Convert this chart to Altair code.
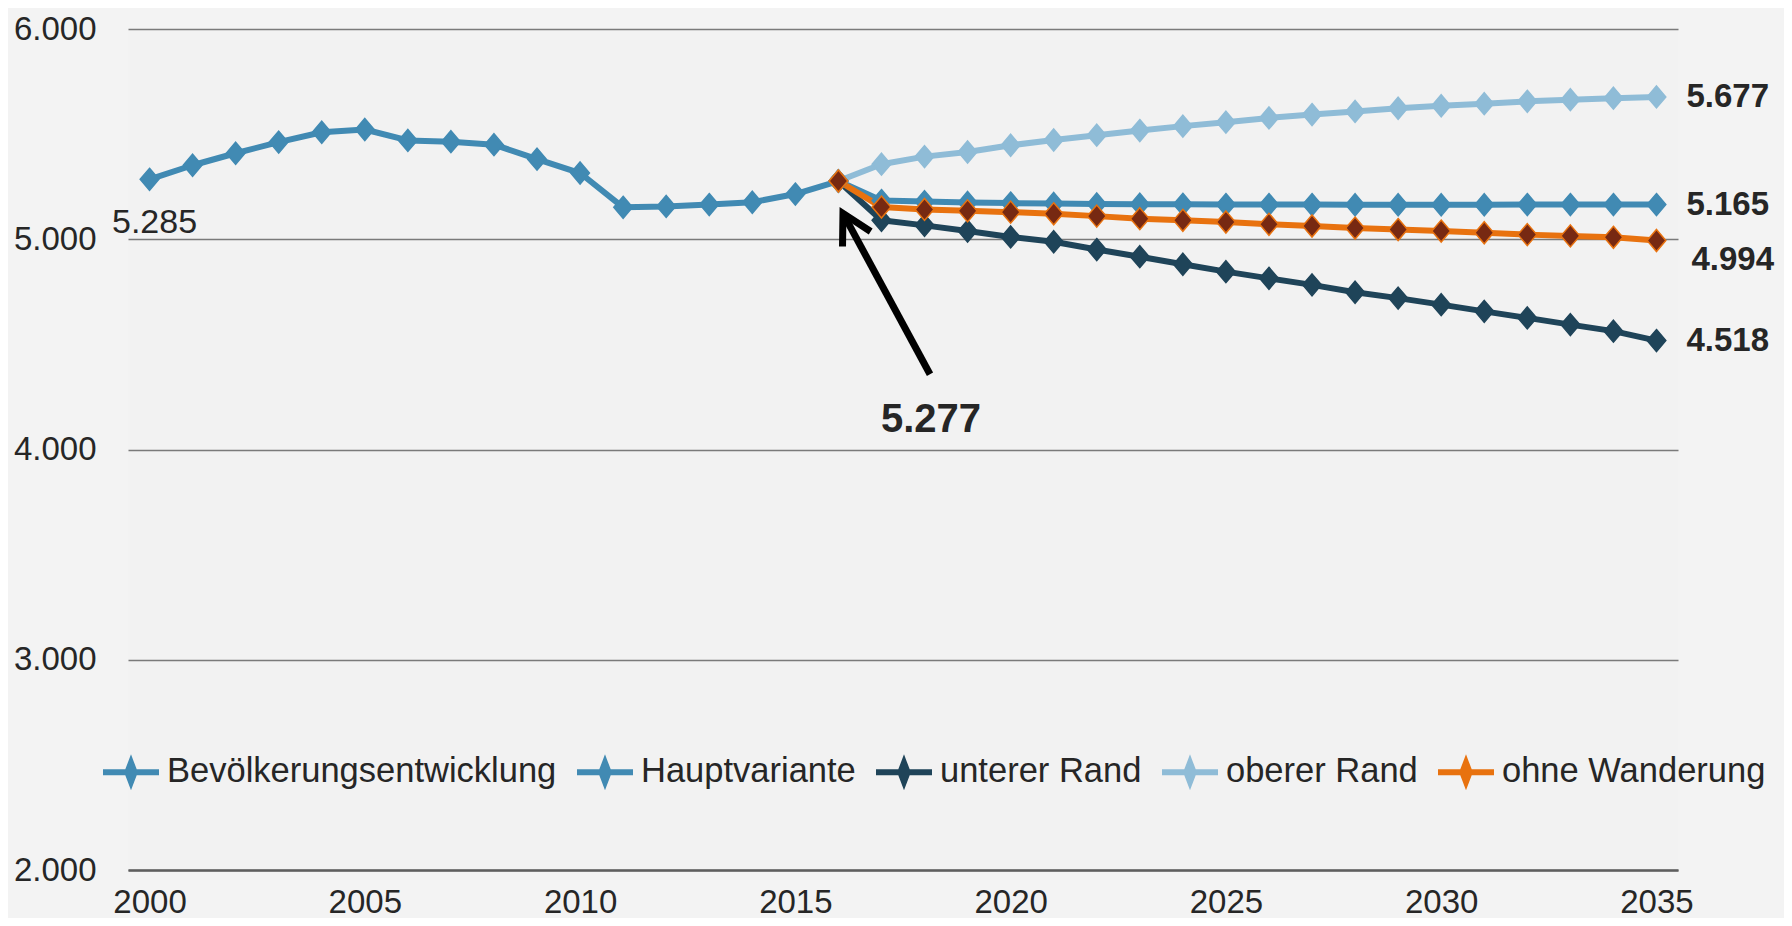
import altair as alt
import pandas as pd

# ---------------- data ----------------
years_hist = list(range(2000, 2017))
bevoelkerung = [5285, 5352, 5409, 5462, 5509, 5522, 5470, 5464, 5450, 5381,
                5315, 5152, 5156, 5165, 5176, 5215, 5277]

years_proj = list(range(2016, 2036))
hauptvariante = [5277, 5184, 5179, 5175, 5172, 5170, 5168, 5167, 5166, 5165,
                 5165, 5165, 5164, 5164, 5164, 5164, 5165, 5165, 5165, 5165]
unterer_rand = [5277, 5090, 5066, 5039, 5011, 4988, 4951, 4917, 4881, 4846,
                4814, 4783, 4748, 4720, 4689, 4657, 4626, 4594, 4563, 4518]
oberer_rand = [5277, 5357, 5393, 5415, 5447, 5472, 5495, 5517, 5538, 5557,
               5577, 5593, 5608, 5623, 5635, 5645, 5656, 5664, 5671, 5677]
ohne_wanderung = [5277, 5153, 5142, 5135, 5129, 5121, 5110, 5098, 5090, 5082,
                  5071, 5063, 5053, 5046, 5039, 5031, 5022, 5016, 5009, 4994]

series_names = ["Bevölkerungsentwicklung", "Hauptvariante", "unterer Rand",
                "oberer Rand", "ohne Wanderung"]
line_colors = ["#418ab3", "#418ab3", "#1f4459", "#8fbcd7", "#e8720f"]
marker_fills = ["#418ab3", "#418ab3", "#1f4459", "#8fbcd7", "#772912"]
line_widths = [6, 6, 6, 6, 7]

x_ticks = [2000, 2005, 2010, 2015, 2020, 2025, 2030, 2035]
y_ticks = [2000, 3000, 4000, 5000, 6000]

# annotation (arrow pointing at the 2016 value)
arrow_tip = (2016.106, 5123)
arrow_tail = (2018.127, 4358)
arrow_label_pos = (2018.15, 4141)
arrow_label = "5.277"

FONT = "Liberation Sans"
TEXT = "#262626"


def de(v):
    return f"{v:,}".replace(",", ".")


rows = []
for name, yrs, vals in zip(series_names,
                           [years_hist] + [years_proj] * 4,
                           [bevoelkerung, hauptvariante, unterer_rand,
                            oberer_rand, ohne_wanderung]):
    for yr, v in zip(yrs, vals):
        rows.append({"Jahr": yr, "Wert": v, "Reihe": name})
df = pd.DataFrame(rows)

end_df = pd.DataFrame({
    "Jahr": [2035] * 3,
    "Wert": [oberer_rand[-1], hauptvariante[-1], unterer_rand[-1]],
})
end_df["Label"] = end_df["Wert"].map(de)
end_df2 = pd.DataFrame({"Jahr": [2035], "Wert": [ohne_wanderung[-1]]})
end_df2["Label"] = end_df2["Wert"].map(de)
start_df = pd.DataFrame({"Jahr": [years_hist[0]], "Wert": [bevoelkerung[0]]})
start_df["Label"] = start_df["Wert"].map(de)

arrow_df = pd.DataFrame({"x": [arrow_tail[0]], "y": [arrow_tail[1]],
                         "x2": [arrow_tip[0]], "y2": [arrow_tip[1]]})
tip_df = pd.DataFrame({"x": [arrow_tip[0]], "y": [arrow_tip[1]]})
alabel_df = pd.DataFrame({"x": [arrow_label_pos[0]], "y": [arrow_label_pos[1]],
                          "Label": [arrow_label]})

# ---------------- scales / axes ----------------
x_scale = alt.Scale(domain=[1999.5, 2035.5], nice=False, zero=False)
y_scale = alt.Scale(domain=[2000, 6000], nice=False, zero=False)

x_enc = alt.X("Jahr:Q", scale=x_scale, axis=alt.Axis(
    values=x_ticks, format="d", title=None, grid=False, ticks=False,
    domain=True, domainColor="#5e5e5e", domainWidth=2.5,
    labelFontSize=33, labelFont=FONT, labelColor=TEXT, labelPadding=16,
    labelFlush=False))
y_enc = alt.Y("Wert:Q", scale=y_scale, axis=alt.Axis(
    values=y_ticks, title=None, grid=True, gridColor="#7a7a7a",
    gridWidth=1.5, domain=False, ticks=False,
    labelExpr="replace(format(datum.value, ','), ',', '.')",
    labelFontSize=33, labelFont=FONT, labelColor=TEXT, labelPadding=32))

legend_path = "M-1,0L1,0M0,-0.34L0.13,0L0,0.34L-0.13,0Z"
legend = alt.Legend(
    title=None, orient="none", legendX=-28, legendY=712,
    direction="horizontal", columns=5, symbolType=legend_path,
    symbolSize=3136, symbolStrokeWidth=5, symbolOpacity=1,
    labelFontSize=34.5, labelFont=FONT, labelColor=TEXT, labelLimit=800,
    labelOffset=5, columnPadding=8)

stroke_scale = alt.Scale(domain=series_names, range=line_colors)
fill_scale = alt.Scale(domain=series_names, range=marker_fills)
width_scale = alt.Scale(domain=series_names, range=line_widths)

base = alt.Chart(df)

lines = base.mark_line(strokeJoin="round").encode(
    x=x_enc, y=y_enc,
    stroke=alt.Stroke("Reihe:N", scale=stroke_scale, legend=legend),
    strokeWidth=alt.StrokeWidth("Reihe:N", scale=width_scale, legend=None),
)

marker_path = "M0,-1L0.85,0L0,1L-0.85,0Z"
points = base.mark_point(shape=marker_path, size=484, filled=True,
                         opacity=1, strokeWidth=1.5).encode(
    x=x_enc, y=y_enc,
    stroke=alt.Stroke("Reihe:N", scale=stroke_scale, legend=legend),
    fill=alt.Fill("Reihe:N", scale=fill_scale, legend=legend),
)

end_labels = alt.Chart(end_df).mark_text(
    align="left", baseline="middle", dx=30, fontSize=33, fontWeight="bold",
    font=FONT, color=TEXT).encode(x="Jahr:Q", y="Wert:Q", text="Label:N")
end_labels2 = alt.Chart(end_df2).mark_text(
    align="left", baseline="middle", dx=35, dy=19, fontSize=33,
    fontWeight="bold", font=FONT, color=TEXT).encode(
    x="Jahr:Q", y="Wert:Q", text="Label:N")
start_label = alt.Chart(start_df).mark_text(
    align="center", baseline="middle", dx=5, dy=44, fontSize=34,
    font=FONT, color=TEXT).encode(x="Jahr:Q", y="Wert:Q", text="Label:N")

arrow_shaft = alt.Chart(arrow_df).mark_rule(
    strokeWidth=7, color="black").encode(
    x="x:Q", y="y:Q", x2="x2:Q", y2="y2:Q")
arrow_head = alt.Chart(tip_df).mark_point(
    shape="M-0.55,1L0,0L0.55,1", size=3364, filled=False, strokeWidth=7,
    color="black", opacity=1, angle=332, strokeJoin="miter").encode(
    x="x:Q", y="y:Q")
arrow_text = alt.Chart(alabel_df).mark_text(
    align="center", baseline="middle", fontSize=40, fontWeight="bold",
    font=FONT, color=TEXT).encode(x="x:Q", y="y:Q", text="Label:N")

chart = alt.layer(
    lines, points, end_labels, end_labels2, start_label,
    arrow_shaft, arrow_head, arrow_text
).properties(
    width=1550, height=841,
    autosize="none",
    padding={"left": 120, "top": 21, "right": 106, "bottom": 48},
    background="#f3f3f3",
).configure_view(
    fill="#f2f2f2", stroke=None
)

chart.save("out.html", embed_options={"renderer": "svg", "actions": False})
